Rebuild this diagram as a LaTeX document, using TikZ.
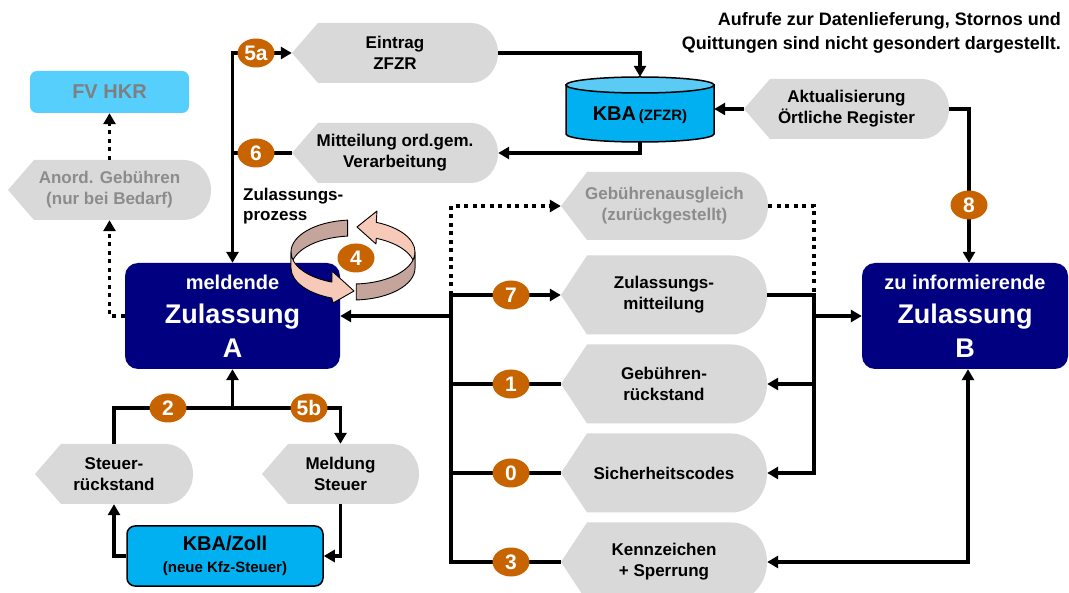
\documentclass[tikz,border=0pt]{standalone}
\usepackage{fontspec}
\setmainfont{Liberation Sans}
\usetikzlibrary{arrows.meta,shapes.geometric}
\definecolor{gfill}{HTML}{D9D9D9}
\definecolor{gtext}{HTML}{8C8C8C}
\definecolor{fvtext}{HTML}{7F7F7F}
\definecolor{navy}{HTML}{000080}
\definecolor{kbablue}{HTML}{00B0F0}
\definecolor{kbatop}{HTML}{5BCBF5}
\definecolor{fvblue}{HTML}{57CFFD}
\definecolor{orng}{HTML}{C86400}
\definecolor{ringdark}{HTML}{C5A59B}
\definecolor{ringlight}{HTML}{F6C9B8}
\newcommand\gshape[7][]{%
  \fill[gfill] ({#3-#5/2},#4) -- ({#3-#5/2+26},{#4-#6/2}) -- ({#3+#5/2-0.45*#6},{#4-#6/2})
    arc[start angle=90,end angle=-90,x radius={0.45*#6*1pt},y radius={#6*0.5pt}]
    -- ({#3-#5/2+26},{#4+#6/2}) -- cycle;
  \node[gnode,minimum width=#5pt,minimum height=#6pt,#1] (#2) at (#3,#4) {#7};
}
\begin{document}
\begin{tikzpicture}[x=1pt,y=-1pt,
  gnode/.style={inner sep=0pt,align=center,font=\bfseries\fontsize{17}{21}\selectfont},
  conn/.style={line width=3.6pt,draw=black},
  conna/.style={conn,-{Triangle[length=11pt,width=12pt]}},
  dotc/.style={line width=3.6pt,draw=black,dash pattern=on 4pt off 4.5pt},
  dota/.style={dotc,-{Triangle[length=11pt,width=12pt]}},
  num/.style={ellipse,fill=orng,text=white,minimum width=37pt,minimum height=29pt,inner sep=0pt,
     font=\bfseries\fontsize{21}{21}\selectfont},
  bigbox/.style={fill=navy,rounded corners=13pt,text=white,align=center,inner sep=0pt,
     font=\bfseries\fontsize{27}{34}\selectfont},
  ring/.style={draw=black,line width=0.9pt,line join=round}]
\clip (0,0) rectangle (1069,593);
\fill[white] (0,0) rectangle (1069,593);

% grey shapes
\gshape{ein}{395}{53}{206}{60}{Eintrag\\ZFZR}
\gshape{mit}{395}{153}{206}{60}{Mitteilung ord.gem.\\Verarbeitung}
\gshape{akt}{846.5}{109}{205}{60}{Aktualisierung\\Örtliche Register}
\gshape[text=gtext]{anord}{109.5}{190}{203}{60}{Anord. Gebühren\\(nur bei Bedarf)}
\gshape[text=gtext]{ga}{664.5}{206}{207}{68}{Gebührenausgleich\\(zurückgestellt)}
\gshape{zm}{664}{295}{206}{79}{Zulassungs-\\mitteilung}
\gshape{gr}{664}{384}{206}{79}{Gebühren-\\rückstand}
\gshape{sc}{664}{473}{206}{79}{Sicherheitscodes}
\gshape{kz}{664}{562}{206}{79}{Kennzeichen\\+ Sperrung}
\gshape{st}{114}{474}{158}{60}{Steuer-\\rückstand}
\gshape{ms}{340.5}{474}{157}{60}{Meldung\\Steuer}

% boxes
\node[fill=fvblue,rounded corners=7pt,minimum width=159pt,minimum height=42pt,inner sep=0pt,
  text=fvtext,font=\bfseries\fontsize{20}{24}\selectfont] (fv) at (109.5,92) {FV HKR};
\node[bigbox,minimum width=215pt,minimum height=106pt] (A) at (232.5,316)
  {{\fontsize{20}{34}\selectfont meldende}\\Zulassung\\A};
\node[bigbox,minimum width=206pt,minimum height=106pt] (B) at (965,316)
  {{\fontsize{20}{34}\selectfont zu informierende}\\Zulassung\\B};
\node[fill=kbablue,draw=black,line width=1.5pt,rounded corners=8pt,minimum width=196pt,
  minimum height=60pt,inner sep=0pt,align=center,font=\bfseries\fontsize{20}{22}\selectfont]
  (zoll) at (225,556) {KBA/Zoll\\{\fontsize{15}{22}\selectfont (neue Kfz-Steuer)}};

% cylinder KBA
\filldraw[fill=kbablue,draw=black,line width=1.5pt] (566,85) -- (566,134)
  arc[start angle=180,end angle=360,x radius=74pt,y radius=8pt] -- (714,85) -- cycle;
\filldraw[fill=kbatop,draw=black,line width=1.5pt] (640,85) ellipse[x radius=74pt,y radius=8pt];
\node[minimum width=148pt,minimum height=65pt,inner sep=0pt] (kba) at (640,109.5) {};
\node[font=\bfseries,inner sep=0pt] (kbat) at (640,115)
  {{\fontsize{20}{24}\selectfont KBA} {\fontsize{15}{18}\selectfont (ZFZR)}};

% texts
\node[anchor=east,align=right,inner sep=0pt,font=\bfseries\fontsize{18}{24}\selectfont] (note)
  at (1061,33) {Aufrufe zur Datenlieferung, Stornos und\\Quittungen sind nicht gesondert dargestellt.};
\node[anchor=west,align=left,inner sep=0pt,font=\bfseries\fontsize{17}{20}\selectfont] (zp)
  at (243,206) {Zulassungs-\\prozess};

% connectors top left
\draw[conna] (A.north |- mit.west) |- (ein.west);
\draw[conna] (mit.west) -| (A.north);
\draw[conna] (ein.east) -| (kba.north);
\draw[conna] (kba.south) |- (mit.east);
\draw[conna] (akt.west) -- (akt.west -| kba.east);
\draw[conna] (akt.east) -| ([xshift=4pt]B.north);

% left dotted
\draw[dota] (A.west) -| (anord.south);
\draw[dota] (anord.north) -- (fv.south);

% tree below A
\coordinate (t) at (232.5,408);
\draw[conna] (t) -- (A.south);
\draw[conna] (st.north) |- (t) -| (ms.north);
\draw[conna] (ms.south) |- (zoll.east);
\draw[conna] (zoll.west) -| (st.south);

% bus
\coordinate (b7) at (451,295);
\draw[conna] (kz.west) -| (b7) -- (zm.west);
\draw[conn] (gr.west) -- (gr.west -| b7);
\draw[conn] (sc.west) -- (sc.west -| b7);
\draw[conna] (A.east -| b7) -- (A.east);
\draw[dota] (b7) |- (ga.west);

% right junction
\coordinate (j) at (814,295);
\draw[conna] (zm.east) -- (j) |- (sc.east);
\draw[conna] (j |- gr.east) -- (gr.east);
\draw[conna] (j |- B.west) -- (B.west);
\draw[dotc] (ga.east) -| (j);
\draw[conn,{Triangle[length=11pt,width=12pt]}-{Triangle[length=11pt,width=12pt]}]
  (kz.east) -| ([xshift=3pt]B.south);

% ring (Zulassungsprozess)
\filldraw[ring,fill=ringdark] ({353+62*cos(95)},{252-32*sin(95)})
  arc[start angle=95,end angle=180,x radius=62pt,y radius=32pt] -- ++(0,16)
  arc[start angle=180,end angle=95,x radius=62pt,y radius=32pt] -- cycle;
\filldraw[ring,fill=ringlight] (415,252)
  arc[start angle=0,end angle=68,x radius=62pt,y radius=32pt]
  -- (377,211) -- (357,227) -- (376,244) -- ({353+62*cos(68)},{268-32*sin(68)})
  arc[start angle=68,end angle=0,x radius=62pt,y radius=32pt] -- cycle;
\filldraw[ring,fill=ringlight] (291,252)
  arc[start angle=180,end angle=250,x radius=62pt,y radius=32pt]
  -- (332,271) -- (354,291) -- (333,303) -- ({353+62*cos(250)},{268-32*sin(250)})
  arc[start angle=250,end angle=180,x radius=62pt,y radius=32pt] -- cycle;
\filldraw[ring,fill=ringdark] ({353+62*cos(273)},{252-32*sin(273)})
  arc[start angle=273,end angle=360,x radius=62pt,y radius=32pt] -- ++(0,16)
  arc[start angle=360,end angle=273,x radius=62pt,y radius=32pt] -- cycle;

% numbers
\node[num] (n5a) at (256,53) {5a};
\node[num] (n6) at (256,153) {6};
\node[num] (n4) at (356,258) {4};
\node[num] (n8) at (969,205) {8};
\node[num] (n7) at (511,295) {7};
\node[num] (n1) at (511,384) {1};
\node[num] (n0) at (511,473) {0};
\node[num] (n3) at (511,562) {3};
\node[num] (n2) at (168,408) {2};
\node[num] (n5b) at (309,408) {5b};
\end{tikzpicture}
\end{document}
